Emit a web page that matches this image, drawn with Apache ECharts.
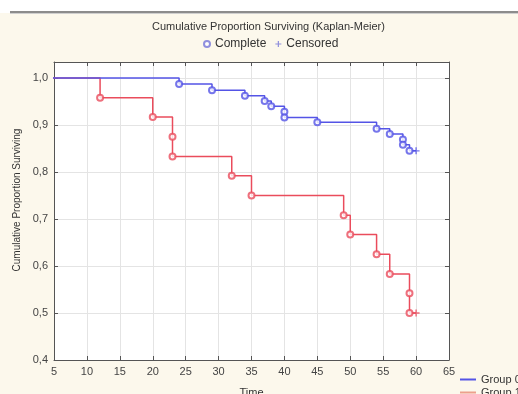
<!DOCTYPE html>
<html>
<head>
<meta charset="utf-8">
<script src="https://cdn.jsdelivr.net/npm/echarts@6/dist/echarts.min.js"></script>
<style>
  html, body { margin: 0; padding: 0; background: #ffffff; }
  #chart { width: 518px; height: 394px; }
</style>
</head>
<body>
<div id="chart"></div>
<script>
// Kaplan-Meier survival estimates for two groups (time of each failure and the
// survival proportion right after it; ties appear as repeated times).
const group0Times = [24, 29, 34, 37, 38, 40, 40, 45, 54, 56, 58, 58, 59];
const group0Surv  = [0.987, 0.974, 0.962, 0.951, 0.940, 0.928, 0.916, 0.906, 0.892, 0.881, 0.869, 0.858, 0.845];
const group0CensTimes = [60];
const group0CensSurv  = [0.845];

const group1Times = [12, 20, 23, 23, 32, 35, 49, 50, 54, 56, 59, 59];
const group1Surv  = [0.958, 0.917, 0.875, 0.833, 0.792, 0.750, 0.708, 0.667, 0.625, 0.583, 0.542, 0.500];
const group1CensTimes = [60];
const group1CensSurv  = [0.500];

const xTicks = [5, 10, 15, 20, 25, 30, 35, 40, 45, 50, 55, 60, 65];
const yTicks = [0.4, 0.5, 0.6, 0.7, 0.8, 0.9, 1.0];

const BLUE = '#5454e6';
const RED = '#ea4c5c';
const KEY = '#7474d8';
const FONT = '"Liberation Sans", Arial, sans-serif';
const PLUS = 'path://M4,0H6V4H10V6H6V10H4V6H0V4H4Z';

function pairs(xs, ys) { return xs.map((x, i) => [x, ys[i]]); }
// step curve: starts at 1.0 at time 0, ends at the last censored time
function curve(ts, ss, ct, cs) {
  const pts = [[0, 1]].concat(pairs(ts, ss));
  if (ct.length) pts.push([ct[ct.length - 1], cs[cs.length - 1]]);
  return pts;
}

const chart = echarts.init(document.getElementById('chart'), null, { renderer: 'canvas' });

const axisText = { color: '#444', fontFamily: FONT, fontSize: 11 };
const frameLine = { show: true, lineStyle: { color: '#555', width: 1 } };
const gridLine = { show: true, lineStyle: { color: '#e4e4e4', width: 1 } };
const innerTick = { show: true, inside: true, length: 4, lineStyle: { color: '#555' } };

const yFmt = v => {
  const k = Math.round(v * 10);
  if (Math.abs(v * 10 - k) > 1e-6) return '';
  return (k / 10).toFixed(1).replace('.', ',');
};

const groupLegend = (name, color, top) => ({
  data: [{ name: name, icon: 'rect', itemStyle: { color: color } }],
  left: 455, top: top, itemWidth: 16, itemHeight: 2, itemGap: 0,
  textStyle: { color: '#333', fontFamily: FONT, fontSize: 11 },
  selectedMode: false
});

chart.setOption({
  backgroundColor: 'transparent',
  animation: false,
  graphic: [
    { type: 'rect', shape: { x: 0, y: 13, width: 518, height: 381 }, style: { fill: '#fcf8ec' }, z: -10, silent: true },
    { type: 'rect', shape: { x: 10, y: 11, width: 508, height: 2 }, style: { fill: '#8c8c8c' }, z: -9, silent: true },
    { type: 'rect', shape: { x: 10, y: 13, width: 508, height: 1 }, style: { fill: '#cfcfcf' }, z: -9, silent: true }
  ],
  title: {
    text: 'Cumulative Proportion Surviving (Kaplan-Meier)',
    left: 147, top: 16,
    textStyle: { color: '#333', fontFamily: FONT, fontSize: 11, fontWeight: 'normal' }
  },
  legend: [
    {
      data: [
        { name: 'Complete', icon: 'emptyCircle', itemStyle: { color: KEY, borderColor: KEY, borderWidth: 1 } },
        { name: 'Censored', icon: PLUS, itemStyle: { color: KEY, borderWidth: 0 } }
      ],
      left: 198, top: 33, itemWidth: 6, itemHeight: 6, itemGap: 9,
      textStyle: { color: '#333', fontFamily: FONT, fontSize: 12 },
      selectedMode: false
    },
    groupLegend('Group 0', BLUE, 369),
    groupLegend('Group 1', '#eca08c', 382)
  ],
  grid: {
    left: 54, right: 69, top: 62, bottom: 34,
    outerBoundsMode: 'none', containLabel: false,
    show: true, backgroundColor: '#ffffff', borderWidth: 0
  },
  xAxis: [
    {
      type: 'value', min: xTicks[0], max: xTicks[xTicks.length - 1], interval: 5,
      name: 'Time', nameLocation: 'middle', nameGap: 27,
      nameTextStyle: { color: '#333', fontFamily: FONT, fontSize: 11 },
      axisLine: frameLine, axisTick: innerTick,
      axisLabel: Object.assign({ margin: 6 }, axisText),
      splitLine: gridLine
    },
    {
      type: 'value', position: 'top', min: xTicks[0], max: xTicks[xTicks.length - 1], interval: 5,
      axisLine: frameLine, axisTick: innerTick,
      axisLabel: { show: false }, splitLine: { show: false }
    }
  ],
  yAxis: [
    {
      type: 'value', min: yTicks[0], max: 1.034, interval: 0.1,
      name: 'Cumulative Proportion Surviving', nameLocation: 'middle', nameGap: 32, nameRotate: 90,
      nameTextStyle: { color: '#333', fontFamily: FONT, fontSize: 10, padding: [0, 0, 0, 22] },
      axisLine: frameLine, axisTick: innerTick,
      axisLabel: Object.assign({ margin: 6, formatter: yFmt }, axisText),
      splitLine: gridLine
    },
    {
      type: 'value', position: 'right', min: yTicks[0], max: 1.034, interval: 0.1,
      axisLine: frameLine, axisTick: innerTick,
      axisLabel: { show: false }, splitLine: { show: false }
    }
  ],
  series: [
    {
      name: 'Group 1', type: 'line', step: 'end', showSymbol: false, clip: true,
      data: curve(group1Times, group1Surv, group1CensTimes, group1CensSurv),
      lineStyle: { color: RED, width: 1.5 }, itemStyle: { color: RED }, z: 3
    },
    {
      name: 'Group 0', type: 'line', step: 'end', showSymbol: false, clip: true,
      data: curve(group0Times, group0Surv, group0CensTimes, group0CensSurv),
      lineStyle: { color: BLUE, width: 1.5 }, itemStyle: { color: BLUE }, z: 4
    },
    {
      name: 'Complete', type: 'scatter', symbol: 'emptyCircle', symbolSize: 6,
      data: pairs(group1Times, group1Surv),
      itemStyle: { color: RED, borderColor: RED, borderWidth: 1.1 }, z: 5
    },
    {
      name: 'Complete', type: 'scatter', symbol: 'emptyCircle', symbolSize: 6,
      data: pairs(group0Times, group0Surv),
      itemStyle: { color: BLUE, borderColor: BLUE, borderWidth: 1.1 }, z: 6
    },
    {
      name: 'Censored', type: 'scatter', symbol: PLUS, symbolSize: 7,
      data: pairs(group1CensTimes, group1CensSurv),
      itemStyle: { color: RED }, z: 5
    },
    {
      name: 'Censored', type: 'scatter', symbol: PLUS, symbolSize: 7,
      data: pairs(group0CensTimes, group0CensSurv),
      itemStyle: { color: BLUE }, z: 6
    }
  ]
});
</script>
</body>
</html>
